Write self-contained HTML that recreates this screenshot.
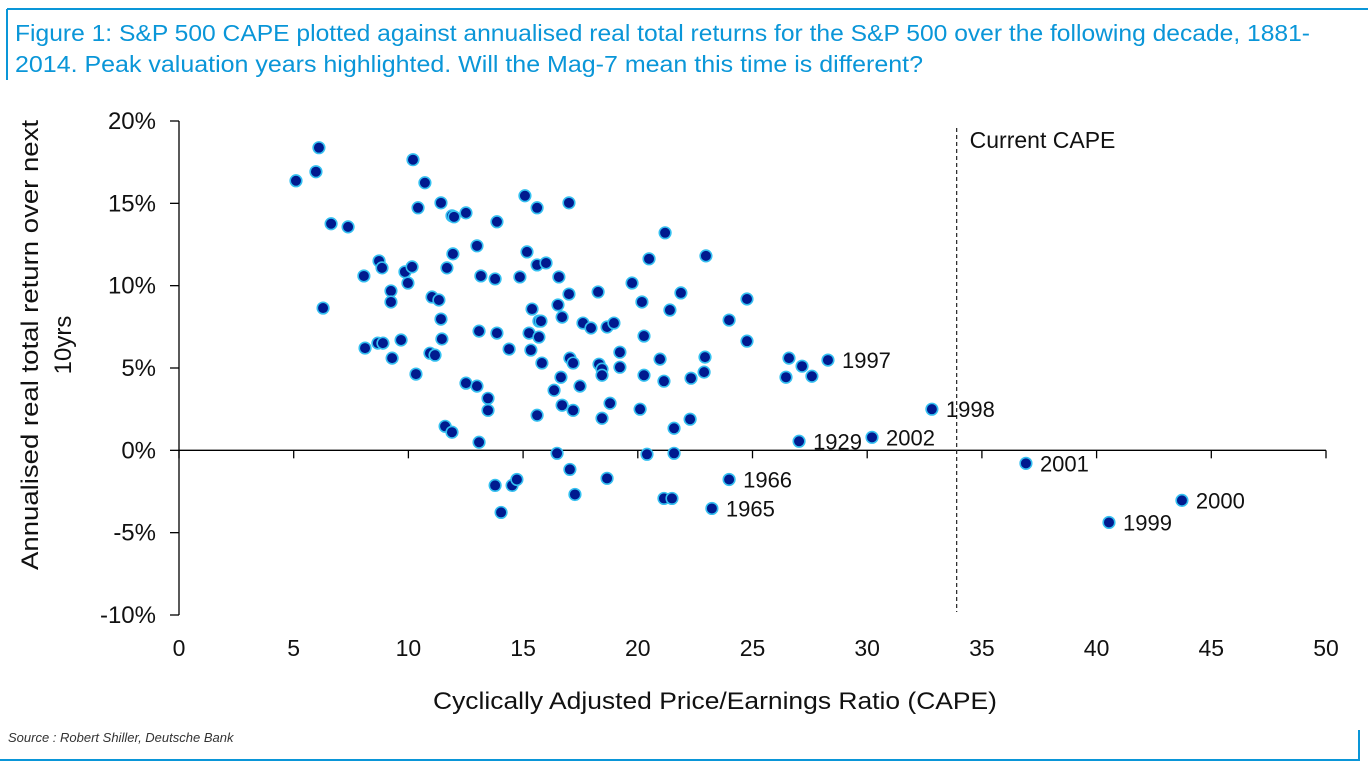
<!DOCTYPE html>
<html><head><meta charset="utf-8">
<style>
body{margin:0;background:#fff;width:1368px;height:771px;overflow:hidden;font-family:"Liberation Sans",sans-serif;}
svg{position:absolute;left:0;top:0}
</style></head>
<body>
<svg id="chart" width="1368" height="771">
<line x1="7" y1="9" x2="1368" y2="9" stroke="#0a96d8" stroke-width="2"/>
<line x1="7" y1="9" x2="7" y2="80" stroke="#0a96d8" stroke-width="2"/>
<text x="15" y="41" font-size="23.5" fill="#0a96d8" textLength="1295" lengthAdjust="spacingAndGlyphs">Figure 1: S&amp;P 500 CAPE plotted against annualised real total returns for the S&amp;P 500 over the following decade, 1881-</text>
<text x="15" y="72" font-size="23.5" fill="#0a96d8" textLength="908" lengthAdjust="spacingAndGlyphs">2014. Peak valuation years highlighted. Will the Mag-7 mean this time is different?</text>
<line x1="0" y1="760" x2="1360" y2="760" stroke="#0a96d8" stroke-width="2"/>
<line x1="1359" y1="730" x2="1359" y2="761" stroke="#0a96d8" stroke-width="2"/>
<text x="8" y="742" font-size="13" font-style="italic" fill="#333">Source : Robert Shiller, Deutsche Bank</text>
<text x="715" y="709" font-size="24" text-anchor="middle" fill="#111" textLength="564" lengthAdjust="spacingAndGlyphs">Cyclically Adjusted Price/Earnings Ratio (CAPE)</text>
<text transform="translate(38,345) rotate(-90)" font-size="24" text-anchor="middle" fill="#111"><tspan x="0" y="0" textLength="450" lengthAdjust="spacingAndGlyphs">Annualised real total return over next</tspan><tspan x="0" y="33">10yrs</tspan></text>
<g id="axes"></g>
<g id="marks"></g>
</svg>
<script>
const xTicks=[0,5,10,15,20,25,30,35,40,45,50];
const yTicks=[-10,-5,0,5,10,15,20];
const capeValues=[6.10,5.97,5.10,6.63,7.37,6.28,8.06,8.72,8.85,9.85,10.16,9.98,9.24,9.24,8.11,8.67,8.89,9.68,9.29,10.33,10.20,10.72,10.42,11.42,11.90,11.99,12.51,13.86,12.99,11.94,11.68,13.16,13.78,14.86,11.03,11.33,11.42,11.46,13.08,13.86,14.39,10.94,11.16,12.51,12.99,13.47,13.47,11.60,11.90,13.08,13.78,14.52,14.73,14.04,
15.08,15.61,17.00,21.19,20.49,22.97,15.17,15.61,16.00,16.56,19.75,17.00,18.27,21.88,24.76,20.18,21.40,15.39,16.52,16.70,15.69,15.78,17.61,17.96,18.66,18.96,23.98,15.26,15.69,20.27,24.76,15.34,15.82,17.04,17.18,18.31,18.44,18.44,19.22,19.22,20.97,22.93,22.89,20.27,21.14,22.32,16.65,16.35,17.48,16.70,17.18,15.61,18.79,18.44,20.10,22.28,21.58,16.48,20.40,21.58,17.04,18.66,17.26,21.14,21.49,
26.46,26.59,27.16,27.59];
const returnValues=[18.38,16.92,16.37,13.76,13.57,8.64,10.59,11.50,11.08,10.84,11.14,10.16,9.68,9.01,6.21,6.51,6.51,6.70,5.60,4.63,17.65,16.25,14.73,15.03,14.24,14.18,14.42,13.88,12.42,11.93,11.08,10.59,10.41,10.53,9.31,9.13,7.97,6.76,7.24,7.12,6.15,5.90,5.78,4.08,3.90,3.16,2.43,1.46,1.10,0.49,-2.13,-2.13,-1.77,-3.77,
15.46,14.73,15.03,13.21,11.63,11.81,12.05,11.26,11.38,10.53,10.16,9.49,9.62,9.56,9.19,9.01,8.52,8.58,8.83,8.09,7.85,7.85,7.73,7.43,7.49,7.73,7.91,7.12,6.88,6.94,6.63,6.09,5.30,5.60,5.30,5.23,4.93,4.56,5.96,5.05,5.54,5.66,4.75,4.56,4.20,4.38,4.44,3.65,3.90,2.74,2.43,2.13,2.86,1.95,2.50,1.89,1.34,-0.18,-0.24,-0.18,-1.16,-1.70,-2.68,-2.92,-2.92,
4.44,5.60,5.11,4.50];
const labelYears=["1997","1929","2002","1998","2001","1999","2000","1966","1965"];
const labelCape=[28.29,27.03,30.21,32.82,36.92,40.54,43.72,23.98,23.23];
const labelReturn=[5.48,0.55,0.79,2.50,-0.79,-4.38,-3.04,-1.77,-3.53];
const currentCape=[33.9];

const NS="http://www.w3.org/2000/svg";
const X0=179,X1=1326,Y0=615,Y1=121;
const xS=v=>X0+(v-0)/(50-0)*(X1-X0);
const yS=v=>Y0-(v+10)/(30)*(Y0-Y1);
function mk(tag,attrs,parent){const e=document.createElementNS(NS,tag);for(const k in attrs)e.setAttribute(k,attrs[k]);parent.appendChild(e);return e;}
const axes=document.getElementById('axes'),marks=document.getElementById('marks');

let yl=mk('line',{x1:X0,y1:Y1,x2:X0,y2:Y0,stroke:'#000','stroke-width':1.3},axes);


let xl=mk('line',{x1:X0,y1:yS(0),x2:X1,y2:yS(0),stroke:'#000','stroke-width':1.3},axes);


yTicks.forEach(t=>{
  const tk=mk('line',{x1:X0-9,y1:yS(t),x2:X0,y2:yS(t),stroke:'#000','stroke-width':1.3},axes);
  
  
  const tx=mk('text',{x:156,y:yS(t)+8,'font-size':24,'text-anchor':'end',fill:'#111'},axes);
  tx.textContent=t+'%';
  
  
});
xTicks.forEach(t=>{
  const tk=mk('line',{x1:xS(t),y1:yS(0),x2:xS(t),y2:yS(0)+8,stroke:'#000','stroke-width':1.3},axes);
  
  
  const tx=mk('text',{x:xS(t),y:656,'font-size':23,'text-anchor':'middle',fill:'#111'},axes);
  tx.textContent=t;
  
  
});
const cl=mk('line',{x1:xS(currentCape[0]),y1:128,x2:xS(currentCape[0]),y2:612,stroke:'#222','stroke-width':1.2,'stroke-dasharray':'4,3'},axes);


const ct=mk('text',{x:xS(currentCape[0])+13,y:148,'font-size':23,fill:'#111'},axes);
ct.textContent='Current CAPE';



function dot(cx,cy){
  const c=mk('circle',{cx:cx,cy:cy,r:5.8,fill:'#001a8f',stroke:'#35c0f0','stroke-width':1.6},marks);
  
  
}
capeValues.forEach((v,i)=>dot(xS(v),yS(returnValues[i])));
labelYears.forEach((y,i)=>{
  dot(xS(labelCape[i]),yS(labelReturn[i]));
  const t=mk('text',{x:xS(labelCape[i])+14,y:yS(labelReturn[i])+8,'font-size':22,fill:'#111'},marks);
  t.textContent=y;
  
  
});
</script>
</body></html>
